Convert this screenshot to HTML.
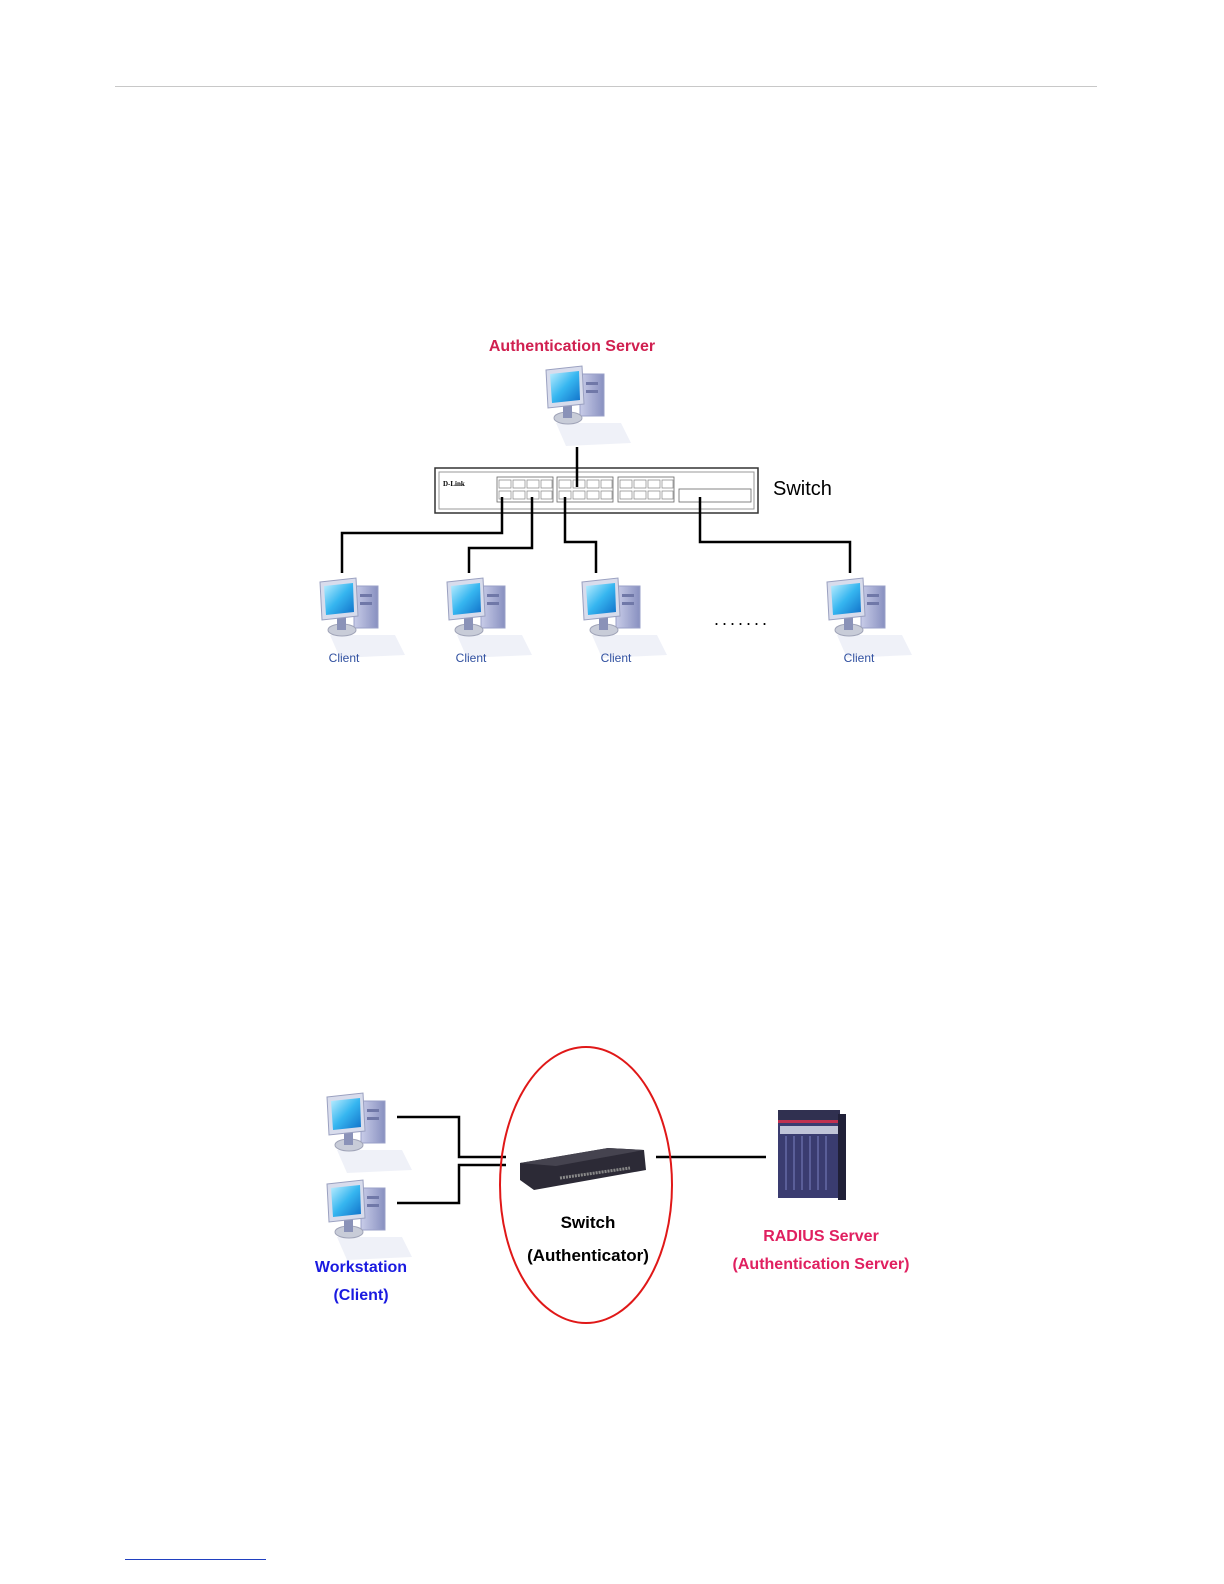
<!DOCTYPE html>
<html><head><meta charset="utf-8"><style>
html,body{margin:0;padding:0;background:#fff;width:1224px;height:1584px;overflow:hidden}
svg{display:block}
</style></head><body>
<svg width="1224" height="1584" viewBox="0 0 1224 1584" xmlns="http://www.w3.org/2000/svg">
<defs>
<linearGradient id="scr" x1="0" y1="0" x2="1" y2="1"><stop offset="0" stop-color="#bfefff"/><stop offset="0.5" stop-color="#36b6f0"/><stop offset="1" stop-color="#1070c8"/></linearGradient>
<linearGradient id="tw" x1="0" y1="0" x2="1" y2="0"><stop offset="0" stop-color="#c8cce8"/><stop offset="1" stop-color="#8890c0"/></linearGradient>
<g id="pc">
  <path d="M10 55 L75 55 L85 75 L20 78 Z" fill="#e4e8f4" opacity="0.6"/>
  <rect x="34" y="6" width="24" height="42" fill="url(#tw)" stroke="#9aa0c8"/>
  <rect x="40" y="14" width="12" height="3" fill="#7078a8"/>
  <rect x="40" y="22" width="12" height="3" fill="#7078a8"/>
  <ellipse cx="22" cy="50" rx="14" ry="6" fill="#c8ccd8" stroke="#a0a4b8"/>
  <rect x="17" y="36" width="9" height="14" fill="#8a92b8"/>
  <path d="M0 2 L36 -2 L38 36 L2 40 Z" fill="#d8dcec" stroke="#9aa0c0"/>
  <path d="M4 6 L33 3 L34 32 L6 35 Z" fill="url(#scr)"/>
</g>
</defs>
<line x1="115" y1="86.5" x2="1097" y2="86.5" stroke="#c8c8c8" stroke-width="1"/>

<text x="572" y="351" font-family="Liberation Sans, sans-serif" font-size="16" font-weight="bold" fill="#d02050" text-anchor="middle">Authentication Server</text>
<use href="#pc" x="546" y="368"/>

<rect x="435" y="468" width="323" height="45" fill="#fff" stroke="#333" stroke-width="1.5"/>
<rect x="439" y="472" width="315" height="37" fill="none" stroke="#999"/>
<text x="443" y="486" font-family="Liberation Serif, serif" font-size="7" font-weight="bold">D-Link</text>
<g fill="none" stroke="#666" stroke-width="0.8">
  <rect x="497" y="477" width="56" height="25"/>
  <rect x="557" y="477" width="56" height="25"/>
  <rect x="618" y="477" width="56" height="25"/>
  <rect x="679" y="489" width="72" height="13"/>
</g>
<g fill="none" stroke="#888" stroke-width="0.7">
<path d="M499 480h12v8h-12zM513 480h12v8h-12zM527 480h12v8h-12zM541 480h11v8h-11zM499 491h12v8h-12zM513 491h12v8h-12zM527 491h12v8h-12zM541 491h11v8h-11z"/>
<path d="M559 480h12v8h-12zM573 480h12v8h-12zM587 480h12v8h-12zM601 480h11v8h-11zM559 491h12v8h-12zM573 491h12v8h-12zM587 491h12v8h-12zM601 491h11v8h-11z"/>
<path d="M620 480h12v8h-12zM634 480h12v8h-12zM648 480h12v8h-12zM662 480h11v8h-11zM620 491h12v8h-12zM634 491h12v8h-12zM648 491h12v8h-12zM662 491h11v8h-11z"/>
</g>
<text x="773" y="495" font-family="Liberation Sans, sans-serif" font-size="20">Switch</text>

<g stroke="#000" stroke-width="2.5" fill="none">
  <path d="M577 447 V487"/>
  <path d="M502 497 V533 H342 V573"/>
  <path d="M532 497 V548 H469 V573"/>
  <path d="M565 497 V542 H596 V573"/>
  <path d="M700 497 V542 H850 V573"/>
</g>
<use href="#pc" x="320" y="580"/>
<use href="#pc" x="447" y="580"/>
<use href="#pc" x="582" y="580"/>
<use href="#pc" x="827" y="580"/>
<g font-family="Liberation Sans, sans-serif" font-size="12" fill="#3050a0" text-anchor="middle">
<text x="344" y="662">Client</text><text x="471" y="662">Client</text><text x="616" y="662">Client</text><text x="859" y="662">Client</text>
</g>
<text x="742" y="625" font-family="Liberation Sans, sans-serif" font-size="18" text-anchor="middle" letter-spacing="3">.......</text>

<use href="#pc" x="327" y="1095"/>
<use href="#pc" x="327" y="1182"/>
<g stroke="#000" stroke-width="2.5" fill="none">
  <path d="M397 1117 H459 V1157 H506"/>
  <path d="M397 1203 H459 V1165 H506"/>
  <path d="M656 1157 H766"/>
</g>
<ellipse cx="586" cy="1185" rx="86" ry="138" fill="none" stroke="#e01818" stroke-width="2"/>
<path d="M520 1163 L608 1148 L644 1150 L646 1170 L534 1190 L520 1180 Z" fill="#2c2a36"/>
<path d="M520 1163 L608 1148 L644 1150 L556 1166 Z" fill="#45434f"/>
<path d="M560 1178 L630 1168" stroke="#888" stroke-width="3" stroke-dasharray="2 1"/>
<text x="588" y="1228" font-family="Liberation Sans, sans-serif" font-size="17" font-weight="bold" text-anchor="middle">Switch</text>
<text x="588" y="1261" font-family="Liberation Sans, sans-serif" font-size="17" font-weight="bold" text-anchor="middle">(Authenticator)</text>

<rect x="778" y="1110" width="62" height="88" fill="#3a3c70"/>
<rect x="778" y="1110" width="62" height="12" fill="#303050"/>
<rect x="778" y="1120" width="62" height="3" fill="#c03050"/>
<rect x="780" y="1126" width="58" height="8" fill="#c0c4d8"/>
<path d="M786 1136V1190M794 1136V1190M802 1136V1190M810 1136V1190M818 1136V1190M826 1136V1190" stroke="#5a5e98" stroke-width="2"/>
<rect x="838" y="1114" width="8" height="86" fill="#202038"/>

<text x="821" y="1241" font-family="Liberation Sans, sans-serif" font-size="16" font-weight="bold" fill="#e02060" text-anchor="middle">RADIUS Server</text>
<text x="821" y="1269" font-family="Liberation Sans, sans-serif" font-size="16" font-weight="bold" fill="#e02060" text-anchor="middle">(Authentication Server)</text>
<text x="361" y="1272" font-family="Liberation Sans, sans-serif" font-size="16" font-weight="bold" fill="#1a1ae0" text-anchor="middle">Workstation</text>
<text x="361" y="1300" font-family="Liberation Sans, sans-serif" font-size="16" font-weight="bold" fill="#1a1ae0" text-anchor="middle">(Client)</text>

<line x1="125" y1="1559.5" x2="266" y2="1559.5" stroke="#2040c0" stroke-width="1"/>
</svg>
</body></html>
